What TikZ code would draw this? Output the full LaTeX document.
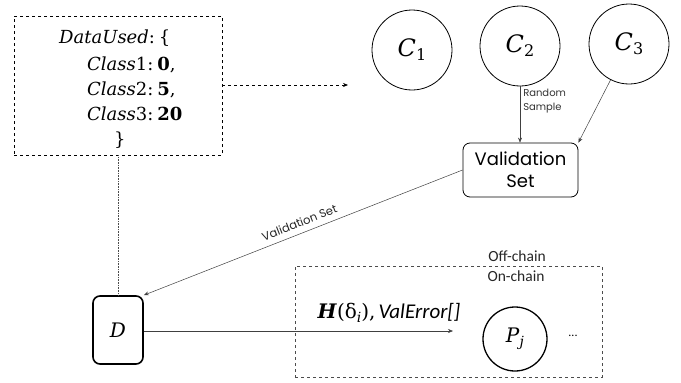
\documentclass[tikz,border=0pt]{standalone}
\usepackage{fontspec}
\newfontfamily\gothic{Poppins}
\newfontfamily\calib{Carlito}
\newfontfamily\cam{DejaVu Serif}
\usetikzlibrary{arrows.meta}
\newcommand\lowsub[2]{\raisebox{-#1}{#2}}
\tikzset{
  tip/.style={-{Stealth[length=5pt,width=4pt]}},
  thinline/.style={draw=black!75, line width=0.5pt},
  classnode/.style={circle, draw, line width=0.8pt, minimum size=80pt, inner sep=0pt, font=\cam\fontsize{24}{28}\selectfont},
  txt/.style={inner sep=0pt, anchor=base west, font=\cam\fontsize{18}{20}\selectfont},
}
\begin{document}
\begin{tikzpicture}[x=1pt,y=-1pt]
\useasboundingbox (0,0) rectangle (681,383);
% DataUsed box
\node[draw, dashed, line width=0.7pt, minimum width=208pt, minimum height=139pt, inner sep=0pt] (data) at (118,85.5) {};
\node[txt] (l1) at (59,43) {\textit{DataUsed}:\kern4pt\{};
\node[txt] (l2) at (87,70) {\textit{Class}1:\kern4pt\textbf{0},};
\node[txt] (l3) at (87,95) {\textit{Class}2:\kern4pt\textbf{5},};
\node[txt] (l4) at (87,120) {\textit{Class}3:\kern4pt\textbf{20}};
\node[txt] (l5) at (114,145) {\}};
\coordinate (dashend) at (348,85);
\draw[dashed, line width=0.7pt, tip] (data.east |- dashend) -- (dashend);
% classes
\node[classnode] (c1) at (412,50) {\textit{C}\lowsub{4pt}{\fontsize{16}{18}\selectfont 1}};
\node[classnode] (c2) at (520,46) {\textit{C}\lowsub{4pt}{\fontsize{16}{18}\selectfont 2}};
\node[classnode] (c3) at (629,44) {\textit{C}\lowsub{4pt}{\fontsize{16}{18}\selectfont 3}};
% validation set
\node[draw, rounded corners=7pt, line width=0.8pt, minimum width=115pt, minimum height=54pt, align=center, font=\gothic\fontsize{18}{22}\selectfont, inner sep=2pt] (val) at (520.5,170) {Validation\\Set};
\draw[thinline, tip] (c2) -- (val.north -| c2) node[pos=0.27, right, align=left, inner sep=3pt, font=\gothic\fontsize{10}{14}\selectfont, black!80] {Random\\Sample};
\draw[thinline, tip] (c3) -- (val.north east);
% D
\node[draw, rounded corners=7pt, line width=1.6pt, minimum width=50pt, minimum height=68pt, font=\cam\fontsize{20}{22}\selectfont] (d) at (118,330) {\textit{D}};
\draw[black!70, line width=0.6pt, densely dotted] (data.south -| d) -- (d.north);
\draw[thinline, tip] (val.west) -- (d.north east) node[midway, sloped, above, inner sep=6pt, font=\gothic\fontsize{11.5}{14}\selectfont, black!85] {Validation Set};
% chain box
\node[draw=black!70, dashed, line width=1pt, minimum width=307pt, minimum height=111pt, inner sep=0pt] (chain) at (448.5,321.5) {};
\node[font=\calib\fontsize{15.5}{17}\selectfont, black!85, inner sep=0pt] (off) at (517,256) {Off-chain};
\node[font=\calib\fontsize{15.5}{17}\selectfont, black!85, inner sep=0pt] (on) at (516,276) {On-chain};
\node[circle, draw, line width=1.3pt, minimum size=64pt, inner sep=0pt, font=\cam\fontsize{20}{22}\selectfont] (p) at (515,339) {\textit{P}\lowsub{4pt}{\fontsize{14}{16}\selectfont\itshape j}};
\node[font=\calib\fontsize{12}{14}\selectfont, inner sep=0pt] (dots) at (573,336) {...};
\coordinate (hend) at (453,331);
\coordinate (hlab) at (389,318);
\draw[thinline, tip] (d.east |- hend) -- (hend);
\node[anchor=base, inner sep=0pt, font=\cam\fontsize{20}{22}\selectfont] (hl) at (hlab) {\textbf{\textit{H}}(δ\lowsub{4pt}{\fontsize{14}{15}\selectfont\itshape i}),\kern3pt{\calib\itshape\fontsize{21}{22}\selectfont ValError[]}};
\end{tikzpicture}
\end{document}
